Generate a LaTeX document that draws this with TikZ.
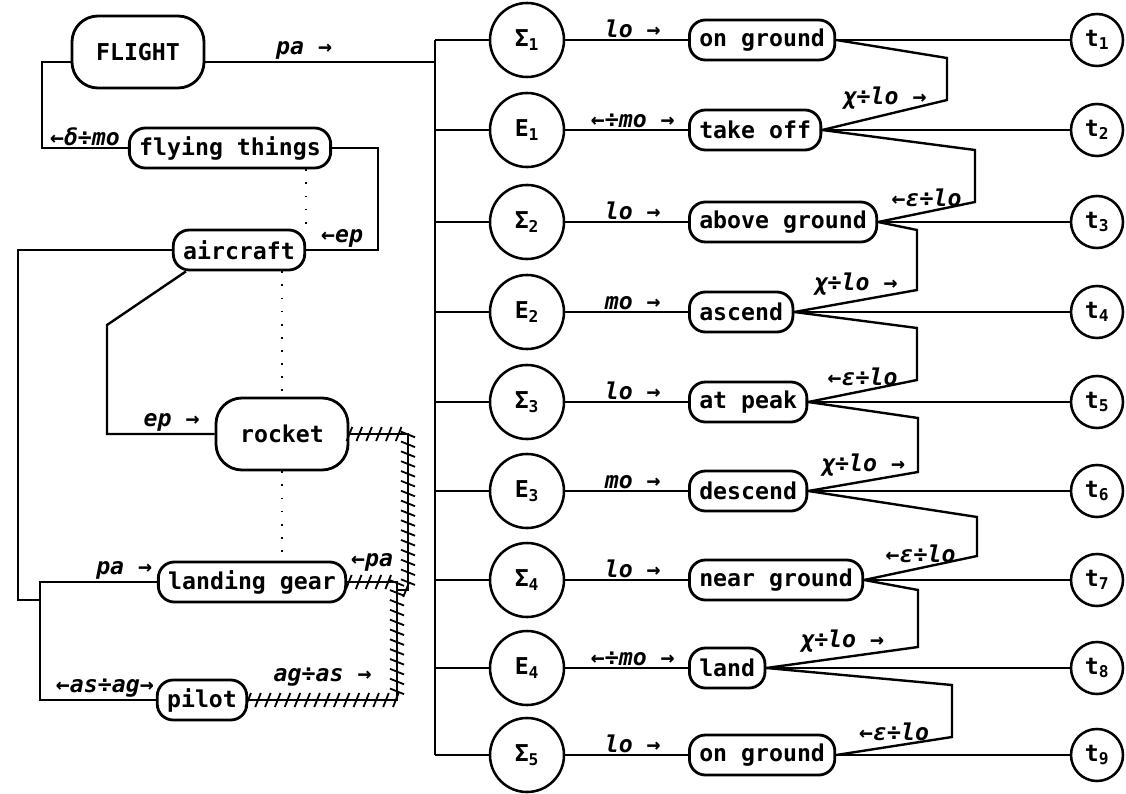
\documentclass[tikz,border=0pt]{standalone}
\usepackage{fontspec}
\setmainfont{DejaVu Sans Mono}
\usetikzlibrary{positioning,decorations.markings}
\newcommand{\lbsz}{\fontsize{16.5}{19}\selectfont}
\tikzset{
  box/.style={draw,line width=2pt,rounded corners=0.4cm,minimum height=1cm,inner xsep=7pt,font=\lbsz\bfseries},
  bigbox/.style={box,rounded corners=0.65cm,minimum width=3.3cm,minimum height=1.8cm},
  sit/.style={draw,circle,line width=1.8pt,minimum size=1.85cm,inner sep=0pt,font=\lbsz\bfseries},
  tm/.style={sit,minimum size=1.3cm},
  rel/.style={font=\lbsz\bfseries\itshape,inner sep=1pt},
  dots/.style={line width=1.3pt,dash pattern=on 1.3pt off 8pt},
  hatch/.style={decoration={markings,mark=between positions 0 and 1 step 7pt with {\draw[line width=1.3pt] (-2pt,-5pt) -- (2pt,5pt);}},postaction={decorate}}
}

\begin{document}
\begin{tikzpicture}[x=0.025cm,y=-0.025cm,line width=1.7pt]
\useasboundingbox (0,0) rectangle (1126,794);
% left part
\node[bigbox] (fl) at (138,52) {FLIGHT};
\node[box] (fly) at (230,148) {flying things};
\node[box] (ac) at (239,250) {aircraft};
\node[bigbox] (rk) at (282,434) {rocket};
\node[box] (lg) at (252,582) {landing gear};
\node[box] (pl) at (202,700) {pilot};
\coordinate (bt) at (435,40);
\coordinate (bb) at (435,755);
\coordinate (jn) at (40,600);
\coordinate (hj) at (397,590);
\draw (bt) -- (bb);
\draw (fl.east |- 0,62) -- node[rel,above,pos=.43]{pa →} (bt |- 0,62);
\draw (fl.west |- 0,62) -- (42,62) -- (42,148) -- node[rel,above]{←δ÷mo} (fly.west);
\draw (fly.east) -- (378,148) -- (378,250) -- node[rel,above]{←ep} (ac.east);
\draw[dots] (fly.south -| ac.north east) -- (ac.north east);
\draw[dots] (ac.south -| rk.north) -- (rk.north);
\draw[dots] (rk.south) -- (rk.south |- lg.north);
\draw (ac.west) -| (18,600) -- (jn);
\draw (jn) |- node[rel,above,pos=.86]{pa →} (lg.west);
\draw (jn) |- node[rel,above,pos=.78]{←as÷ag→} (pl.west);
\draw ([xshift=10pt]ac.south west) -- (107,325) -- (107,434) -- node[rel,above,pos=.6]{ep →} (rk.west);
\draw[hatch] (rk.east) -- (408,434) -- (408,590) -- (hj);
\draw[hatch] (pl.east) -- node[rel,above=8pt]{ag÷as →} (hj |- pl.east) -- (hj |- lg.east) -- node[rel,above=6pt]{←pa} (lg.east);
% states, events and times
\foreach \i/\y/\sy/\k/\rl/\st in {1/40/Σ/1/{lo →}/{on ground}, 2/130/E/1/{←÷mo →}/{take off},
    3/222/Σ/2/{lo →}/{above ground}, 4/312/E/2/{mo →}/{ascend}, 5/402/Σ/3/{lo →}/{at peak},
    6/491/E/3/{mo →}/{descend}, 7/580/Σ/4/{lo →}/{near ground}, 8/668/E/4/{←÷mo →}/{land},
    9/755/Σ/5/{lo →}/{on ground}}{
  \node[sit] (s\i) at (527,\y) {\sy\textsubscript{\k}};
  \node[box,anchor=west] (m\i) at (688,\y) {\st};
  \node[tm] (t\i) at (1097,\y) {t\textsubscript{\i}};
  \draw (bt |- s\i) -- (s\i);
  \draw (s\i) -- node[rel,above,pos=.55]{\rl} (m\i);
  \draw (m\i) -- (t\i);
}
\foreach \a/\b/\xx/\tp/\bo/\rl in {1/2/947/58/100/{χ÷lo →}, 2/3/975/150/202/{←ε÷lo},
    3/4/917/230/290/{χ÷lo →}, 4/5/917/328/380/{←ε÷lo}, 5/6/918/418/472/{χ÷lo →},
    6/7/977/517/556/{←ε÷lo}, 7/8/918/590/647/{χ÷lo →}, 8/9/952/685/737/{←ε÷lo}}
  \draw (m\a.east) -- (\xx,\tp) -- (\xx,\bo) -- node[rel,above=2pt]{\rl} (m\b.east);
\end{tikzpicture}
\end{document}
